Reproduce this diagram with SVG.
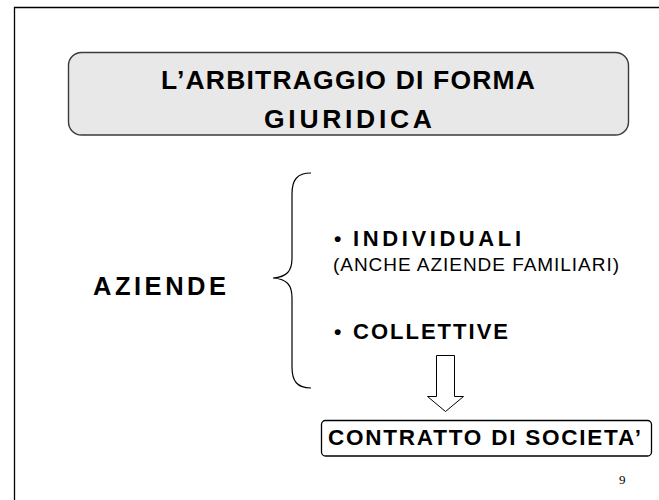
<svg xmlns="http://www.w3.org/2000/svg" width="659" height="500" viewBox="0 0 659 500">
<style>
.b{font-family:"Liberation Sans",Arial,sans-serif;font-weight:bold;fill:#000}
.n{font-family:"Liberation Sans",Arial,sans-serif;fill:#000}
.ln{fill:none;stroke:#000;stroke-width:1.2}
</style>
<rect width="659" height="500" fill="#fff"/>
<path d="M14.5 500 V7.5 H659" fill="none" stroke="#000" stroke-width="1.3"/>
<g id="title">
<rect x="68.5" y="52.5" width="560" height="82.5" rx="13" fill="#e8e8e8" stroke="#3a3a3a" stroke-width="1.4"/>
<text class="b" x="348" y="89" font-size="26.5" text-anchor="middle" textLength="374" lengthAdjust="spacing">L’ARBITRAGGIO DI FORMA</text>
<text class="b" x="348" y="128" font-size="26.5" text-anchor="middle" textLength="168" lengthAdjust="spacing">GIURIDICA</text>
</g>
<g id="aziende">
<text class="b" x="93" y="295" font-size="25.5" textLength="133" lengthAdjust="spacing">AZIENDE</text>
</g>
<g id="brace">
<path class="ln" d="M311 173 C297 173 292 180 292 194 V258 C292 271 287 277 273 278 C287 279 292 285 292 298 V367 C292 381 297 388 311 388"/>
</g>
<g id="individuali">
<text class="b" x="334" y="246" font-size="21">•</text>
<text class="b" x="353" y="246" font-size="22" textLength="168" lengthAdjust="spacing">INDIVIDUALI</text>
<text class="n" x="333" y="271" font-size="19" textLength="286" lengthAdjust="spacing">(ANCHE AZIENDE FAMILIARI)</text>
</g>
<g id="collettive">
<text class="b" x="334" y="339" font-size="21">•</text>
<text class="b" x="353" y="339" font-size="22" textLength="155" lengthAdjust="spacing">COLLETTIVE</text>
</g>
<g id="connectors">
<path d="M436.5 355.5 H454.5 V396.5 H463.5 L445.5 411.5 L427.5 396.5 H436.5 Z" fill="#fff" stroke="#000" stroke-width="1"/>
</g>
<g id="contratto">
<rect x="321.5" y="420.5" width="330" height="35.5" rx="4" fill="#fff" stroke="#000" stroke-width="1.3"/>
<text class="b" x="328" y="445" font-size="22.5" textLength="313" lengthAdjust="spacing">CONTRATTO DI SOCIETA’</text>
</g>
<text x="619" y="484" font-family="'Liberation Serif','Times New Roman',serif" font-size="13">9</text>
</svg>
